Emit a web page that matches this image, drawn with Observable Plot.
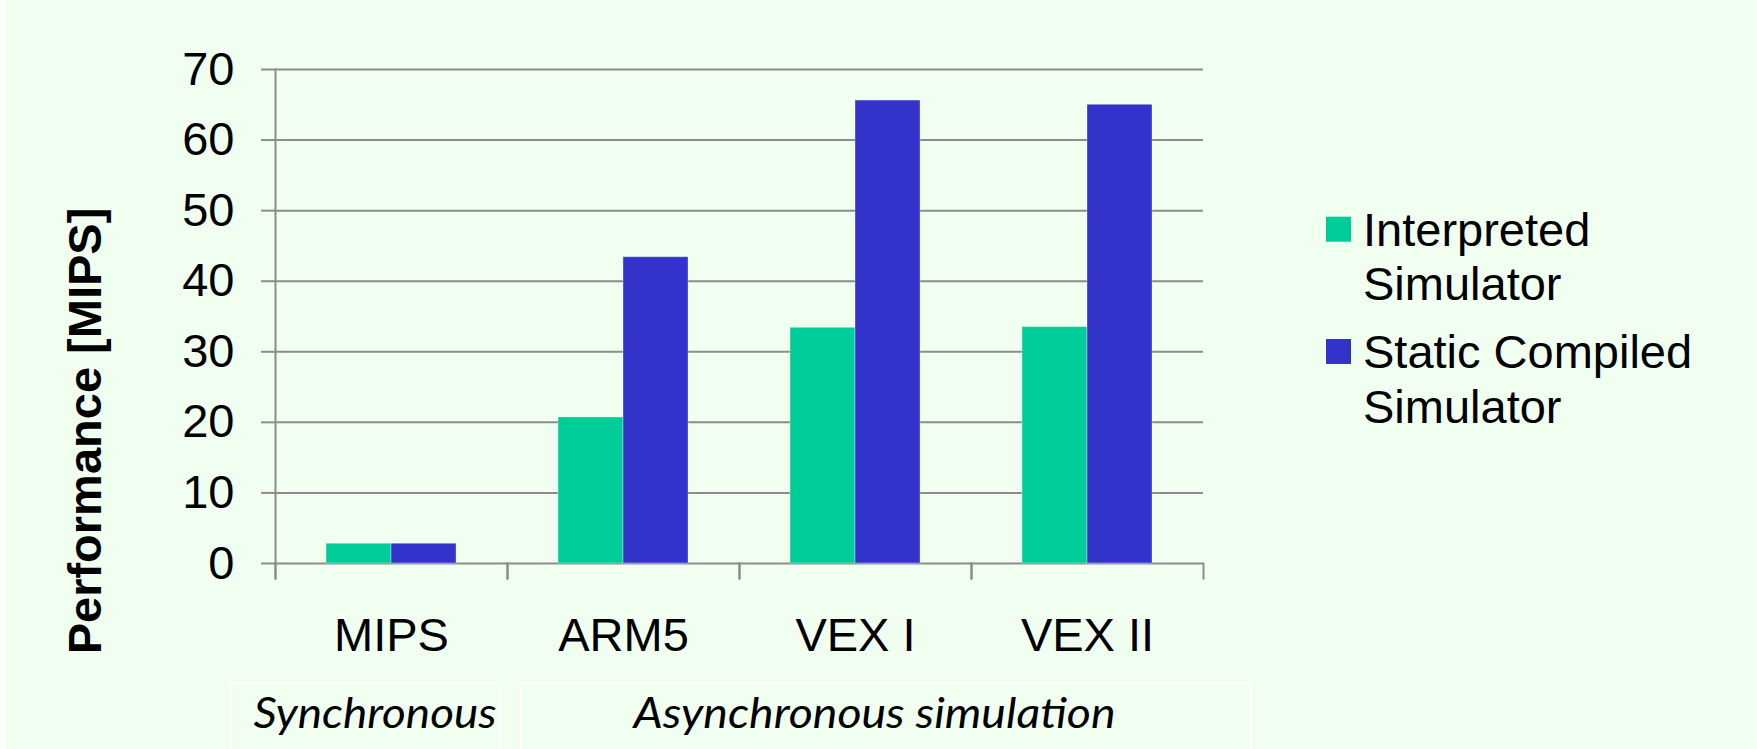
<!DOCTYPE html>
<html>
<head>
<meta charset="utf-8">
<script src="https://cdn.jsdelivr.net/npm/d3@7"></script>
<script src="https://cdn.jsdelivr.net/npm/@observablehq/plot@0.6"></script>
<style>
  html, body { margin: 0; padding: 0; background: #ffffff; }
  #wrap { position: relative; width: 1757px; height: 749px; overflow: hidden; background: #F0FFF0; }
  #strip { position: absolute; left: 0; top: 0; width: 5px; height: 749px; background: #ffffff; }
  #wrap > svg { position: absolute; left: 0; top: 0; }
</style>
</head>
<body>
<div id="wrap"><div id="strip"></div></div>
<script>
// ---- data ----
const categories = ["MIPS", "ARM5", "VEX I", "VEX II"];
const seriesNames = ["Interpreted Simulator", "Static Compiled Simulator"];
const interpreted = [2.8, 20.7, 33.4, 33.5];
const staticCompiled = [2.8, 43.4, 65.6, 65.0];
const yTicks = [0, 10, 20, 30, 40, 50, 60, 70];
const seriesColors = ["#00CC99", "#3333CC"];
const legendLines = [["Interpreted", "Simulator"], ["Static Compiled", "Simulator"]];
const yTitle = "Performance [MIPS]";
const groupLabels = ["Synchronous", "Asynchronous simulation"];

const data = categories.flatMap((c, i) => [
  {category: c, series: seriesNames[0], value: interpreted[i]},
  {category: c, series: seriesNames[1], value: staticCompiled[i]}
]);

const gray = "#8c8c8c";
const font = "'Liberation Sans', Arial, sans-serif";

const chart = Plot.plot({
  width: 1757,
  height: 749,
  marginLeft: 273,
  marginRight: 553,
  marginTop: 69,
  marginBottom: 171,
  style: {background: "transparent", fontFamily: font, fontSize: "47px", color: "#000"},
  fx: {domain: categories, padding: 0, label: null},
  x: {domain: seriesNames, paddingInner: 0, paddingOuter: 0.765, axis: null},
  y: {domain: [0, 70], insetBottom: 15, label: null},
  color: {domain: seriesNames, range: seriesColors},
  marks: [
    Plot.gridY(yTicks, {stroke: gray, strokeOpacity: 1, strokeWidth: 2}),
    Plot.frame({anchor: "left", insetTop: 494, stroke: gray, strokeWidth: 2}),
    Plot.frame({anchor: "right", insetTop: 494, stroke: gray, strokeWidth: 2}),
    Plot.frame({anchor: "left", facet: "super", stroke: gray, strokeWidth: 2}),
    Plot.barY(data, {fx: "category", x: "series", y: "value", fill: "series",
      stroke: "#ffffff", strokeOpacity: 0.35, strokeWidth: 1}),
    Plot.axisY(yTicks, {tickSize: 14, tickPadding: 27, fontSize: 47, stroke: gray, strokeWidth: 2, label: null}),
    Plot.axisFx({anchor: "bottom", tickSize: 0, tickPadding: 39, fontSize: 47, label: null})
  ]
});

const wrap = document.getElementById("wrap");
wrap.appendChild(chart);

// ---- overlay: axis title, legend, group table ----
const ov = d3.select(wrap).append("svg")
  .attr("width", 1757).attr("height", 749)
  .style("position", "absolute").style("left", "0px").style("top", "0px");

ov.append("text")
  .attr("transform", "translate(100.5,431) rotate(-90)")
  .attr("text-anchor", "middle")
  .attr("font-family", font).attr("font-weight", "bold").attr("font-size", 47)
  .attr("fill", "#000")
  .text(yTitle);

// legend
const legendTop = [245.7, 368];
legendLines.forEach((lines, i) => {
  const g = ov.append("g");
  g.append("rect")
    .attr("x", 1326).attr("y", legendTop[i] - 29).attr("width", 25).attr("height", 25)
    .attr("fill", seriesColors[i]);
  lines.forEach((t, j) => {
    g.append("text")
      .attr("x", 1363).attr("y", legendTop[i] + j * 54.5)
      .attr("font-family", font).attr("font-size", 47).attr("fill", "#000")
      .text(t);
  });
});

// group table
const boxes = [{x: 231, w: 269, tx: 253.6, tl: 243}, {x: 521, w: 730, tx: 633.5, tl: 482}];
boxes.forEach((b, i) => {
  ov.append("rect")
    .attr("x", b.x).attr("y", 683).attr("width", b.w).attr("height", 100)
    .attr("fill", "none").attr("stroke", "#ffffff").attr("stroke-width", 2);
  ov.append("text")
    .attr("x", b.tx).attr("y", 728)
    .attr("font-family", "Lato, 'Open Sans', sans-serif").attr("font-style", "italic")
    .attr("font-size", 43).attr("fill", "#000")
    .attr("textLength", b.tl).attr("lengthAdjust", "spacingAndGlyphs")
    .text(groupLabels[i]);
});
</script>
</body>
</html>
